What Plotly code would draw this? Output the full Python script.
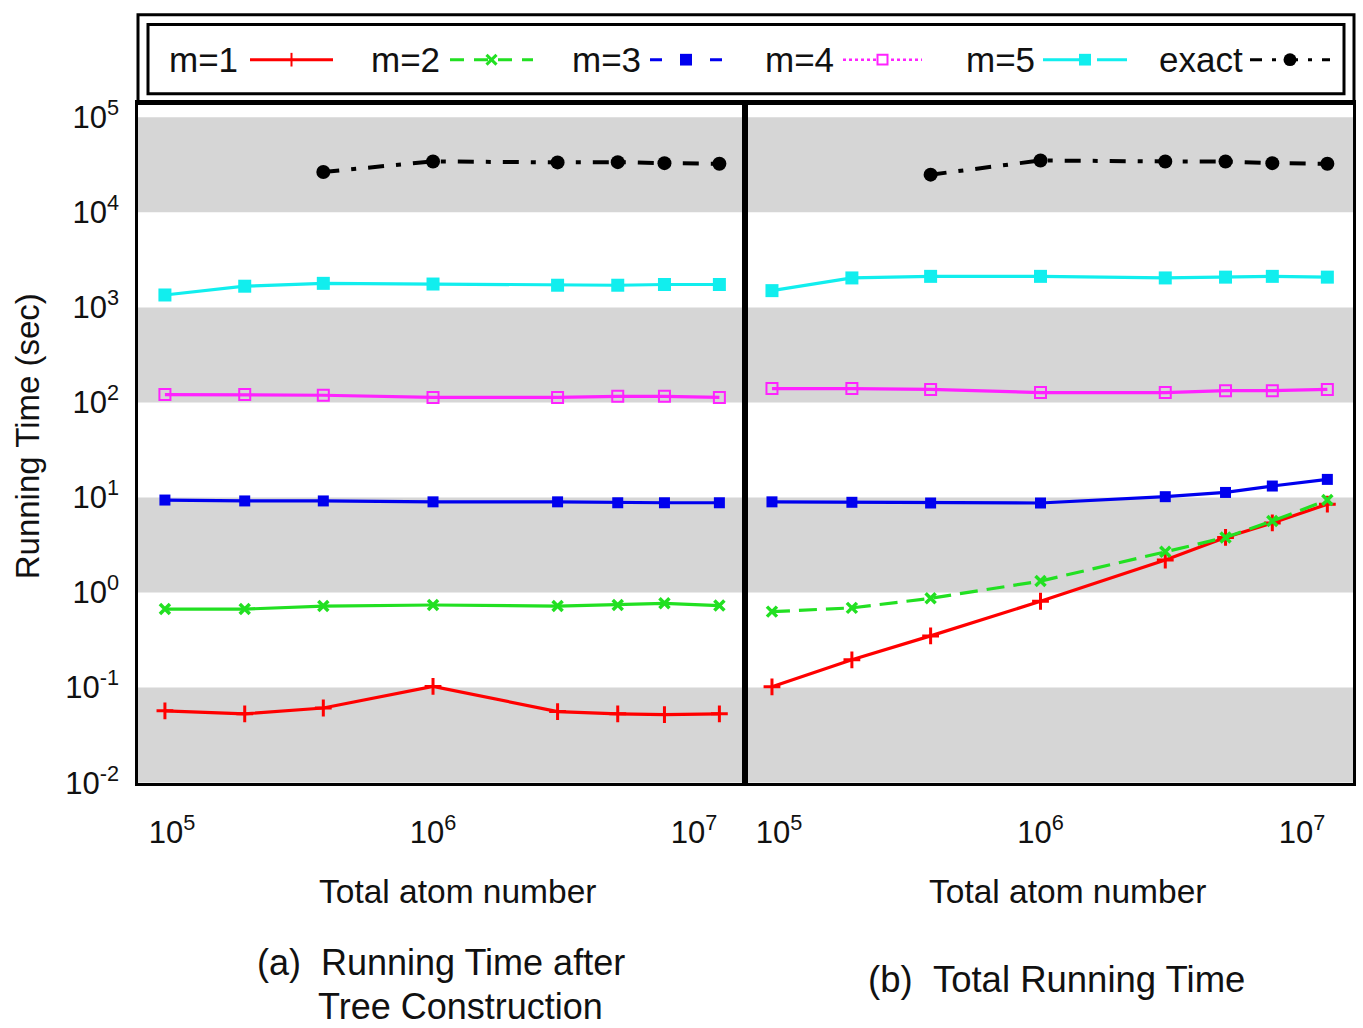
import plotly.graph_objects as go

# ---------------- data ----------------
atoms = [9.4e4, 1.9e5, 3.8e5, 1.0e6, 3.0e6, 5.1e6, 7.7e6, 1.25e7]

# (a) running time after tree construction
m1_a = [0.057, 0.053, 0.061, 0.103, 0.056, 0.053, 0.052, 0.053]
m2_a = [0.67, 0.67, 0.72, 0.74, 0.72, 0.74, 0.77, 0.73]
m3_a = [9.4, 9.2, 9.2, 9.0, 9.0, 8.8, 8.8, 8.8]
m4_a = [121, 121, 119, 113, 113, 116, 116, 113]
m5_a = [1350, 1670, 1790, 1760, 1710, 1710, 1740, 1740]
exact_a = [None, None, 26600, 34300, 33500, 33700, 32900, 32400]

# (b) total running time
m1_b = [0.102, 0.196, 0.35, 0.81, 2.2, 3.8, 5.4, 8.5]
m2_b = [0.63, 0.69, 0.87, 1.32, 2.68, 3.8, 5.65, 9.4]
m3_b = [9.0, 8.9, 8.75, 8.75, 10.2, 11.3, 13.2, 15.5]
m4_b = [140, 140, 137, 127, 127, 133, 133, 137]
m5_b = [1500, 2040, 2120, 2120, 2040, 2080, 2120, 2080]
exact_b = [None, None, 24900, 35100, 34300, 34300, 32900, 32400]

series_names = ["m=1", "m=2", "m=3", "m=4", "m=5", "exact"]
x_tickvals = [1e5, 1e6, 1e7]
x_ticktext = ["10<sup>5</sup>", "10<sup>6</sup>", "10<sup>7</sup>"]
y_tickvals = [1e-2, 1e-1, 1e0, 1e1, 1e2, 1e3, 1e4, 1e5]
y_ticktext = ["10<sup>-2</sup>", "10<sup>-1</sup>", "10<sup>0</sup>", "10<sup>1</sup>",
              "10<sup>2</sup>", "10<sup>3</sup>", "10<sup>4</sup>", "10<sup>5</sup>"]
x_title = "Total atom number"
y_title = "Running Time (sec)"
caption_a1 = "(a)\u00a0\u00a0Running Time after"
caption_a2 = "Tree Construction"
caption_b = "(b)\u00a0\u00a0Total Running Time"

# ---------------- styles ----------------
FONT = "Liberation Sans, Arial, Helvetica, sans-serif"
W, H = 1363, 1028

def X(px):
    return px / W

def Y(py):
    return 1 - py / H

style = {
    "m=1": dict(color="#ff0000", symbol="cross-thin", size=12, mlw=3, mcolor="#ff0000", fill="#ff0000"),
    "m=2": dict(color="#22e022", symbol="x-thin", size=10, mlw=3.5, mcolor="#22e022", fill="#22e022"),
    "m=3": dict(color="#0000ee", symbol="square", size=11, mlw=0, mcolor="#0000ee", fill="#0000ee"),
    "m=4": dict(color="#ff22ff", symbol="square-open", size=11, mlw=2, mcolor="#ff22ff", fill="#ff22ff"),
    "m=5": dict(color="#11eeee", symbol="square", size=13, mlw=0, mcolor="#11eeee", fill="#11eeee"),
    "exact": dict(color="#000000", symbol="circle", size=14, mlw=0, mcolor="#000000", fill="#000000"),
}

panel_a = dict(zip(series_names, [m1_a, m2_a, m3_a, m4_a, m5_a, exact_a]))
panel_b = dict(zip(series_names, [m1_b, m2_b, m3_b, m4_b, m5_b, exact_b]))

fig = go.Figure()

def add_panel(data, xa, ya, dashes):
    for name in series_names:
        s = style[name]
        fig.add_trace(go.Scatter(
            x=atoms, y=data[name], name=name, mode="lines+markers",
            xaxis=xa, yaxis=ya, showlegend=False, connectgaps=False,
            line=dict(color=s["color"], width=3.2 if name != "exact" else 4, dash=dashes.get(name, "solid")),
            marker=dict(symbol=s["symbol"], size=s["size"], color=s["mcolor"],
                        line=dict(width=s["mlw"], color=s["mcolor"])),
        ))

add_panel(panel_a, "x", "y", {"exact": "16px,12px,5px,12px"})
add_panel(panel_b, "x2", "y2", {"exact": "16px,12px,5px,12px", "m=2": "18px,9px"})

shapes = []
# grey decade bands
for xref, yref in (("x domain", "y"), ("x2 domain", "y2")):
    for lo, hi in ((1e4, 1e5), (1e2, 1e3), (1e0, 1e1), (1e-2, 1e-1)):
        shapes.append(dict(type="rect", xref=xref, yref=yref, x0=0, x1=1, y0=lo, y1=hi,
                           fillcolor="#d6d6d6", line=dict(width=0), layer="below"))

# legend frame (double border)
shapes.append(dict(type="rect", xref="paper", yref="paper", x0=X(138), x1=X(1354), y0=Y(8), y1=Y(99),
                   line=dict(color="black", width=3), fillcolor="rgba(0,0,0,0)"))
shapes.append(dict(type="rect", xref="paper", yref="paper", x0=X(148), x1=X(1344), y0=Y(18), y1=Y(89),
                   line=dict(color="black", width=3), fillcolor="rgba(0,0,0,0)"))

legend_pos = {  # text right edge, line start, line end
    "m=1": (240, 250, 333),
    "m=2": (442, 450, 533),
    "m=3": (643, 650, 722),
    "m=4": (836, 843, 922),
    "m=5": (1037, 1043, 1127),
    "exact": (1245, 1250, 1330),
}
legend_dash = {"m=1": "solid", "m=2": "14px,10px", "m=3": "12px,18px", "m=4": "dot",
               "m=5": "38px,16px", "exact": "12px,10px,4px,10px"}
LY = 54
annotations = []
for name in series_names:
    tr, l0, l1 = legend_pos[name]
    s = style[name]
    annotations.append(dict(text=name, x=X(tr), y=Y(LY), xref="paper", yref="paper",
                            xanchor="right", yanchor="middle", showarrow=False,
                            font=dict(family=FONT, size=35, color="#111111")))
    shapes.append(dict(type="line", xref="paper", yref="paper", x0=X(l0), x1=X(l1), y0=Y(LY), y1=Y(LY),
                       line=dict(color=s["color"], width=3 if name != "m=4" else 2.5, dash=legend_dash[name])))
    cx = (l0 + l1) / 2
    if name == "m=1":
        shapes.append(dict(type="line", xref="paper", yref="paper", x0=X(cx), x1=X(cx), y0=Y(LY - 7), y1=Y(LY + 7),
                           line=dict(color=s["color"], width=2)))
    elif name == "m=2":
        for d in (-1, 1):
            shapes.append(dict(type="line", xref="paper", yref="paper", x0=X(cx - 5), x1=X(cx + 5),
                               y0=Y(LY - 5 * d), y1=Y(LY + 5 * d), line=dict(color=s["color"], width=3)))
    elif name in ("m=3", "m=5"):
        shapes.append(dict(type="rect", xref="paper", yref="paper", x0=X(cx - 6), x1=X(cx + 6),
                           y0=Y(LY - 6), y1=Y(LY + 6), fillcolor=s["fill"], line=dict(width=0)))
    elif name == "m=4":
        shapes.append(dict(type="rect", xref="paper", yref="paper", x0=X(cx - 5), x1=X(cx + 5),
                           y0=Y(LY - 5), y1=Y(LY + 5), fillcolor="white", line=dict(color=s["color"], width=2)))
    else:
        shapes.append(dict(type="circle", xref="paper", yref="paper", x0=X(cx - 6.5), x1=X(cx + 6.5),
                           y0=Y(LY - 6.5), y1=Y(LY + 6.5), fillcolor="black", line=dict(width=0)))

# titles and captions
def text_ann(txt, px, py, size, angle=0):
    annotations.append(dict(text=txt, x=X(px), y=Y(py), xref="paper", yref="paper",
                            xanchor="center", yanchor="middle", showarrow=False, textangle=angle,
                            font=dict(family=FONT, size=size, color="#111111")))

text_ann(y_title, 27, 440, 33, -90)
text_ann(x_title, 457, 907, 33.5)
text_ann(x_title, 1067, 907, 33.5)
text_ann(caption_a1, 441, 979, 36)
text_ann(caption_a2, 460, 1024, 36)
text_ann(caption_b, 1056, 997, 36.5)

axis_common = dict(type="log", showline=True, mirror=True, linewidth=2.5, linecolor="black",
                   showgrid=False, zeroline=False, ticks="",
                   tickfont=dict(family=FONT, size=31, color="#111111"))
XR = [4.870, 7.195]
YR = [-2, 5.154]
ydom = [(H - 795) / H, (H - 98) / H]

fig.update_layout(
    width=W, height=H, margin=dict(l=0, r=0, t=0, b=0),
    paper_bgcolor="white", plot_bgcolor="white", showlegend=False,
    xaxis=dict(axis_common, domain=[X(138), X(745)], range=XR, anchor="y",
               tickvals=x_tickvals, ticktext=x_ticktext, ticklabelstandoff=20),
    xaxis2=dict(axis_common, domain=[X(745), X(1353)], range=XR, anchor="y2",
                tickvals=x_tickvals, ticktext=x_ticktext, ticklabelstandoff=20),
    yaxis=dict(axis_common, domain=ydom, range=YR, anchor="x",
               tickvals=y_tickvals, ticktext=y_ticktext, ticklabelstandoff=10),
    yaxis2=dict(axis_common, domain=ydom, range=YR, anchor="x2", matches="y",
                showticklabels=False),
    shapes=shapes, annotations=annotations,
)

fig.write_html("out.html")
